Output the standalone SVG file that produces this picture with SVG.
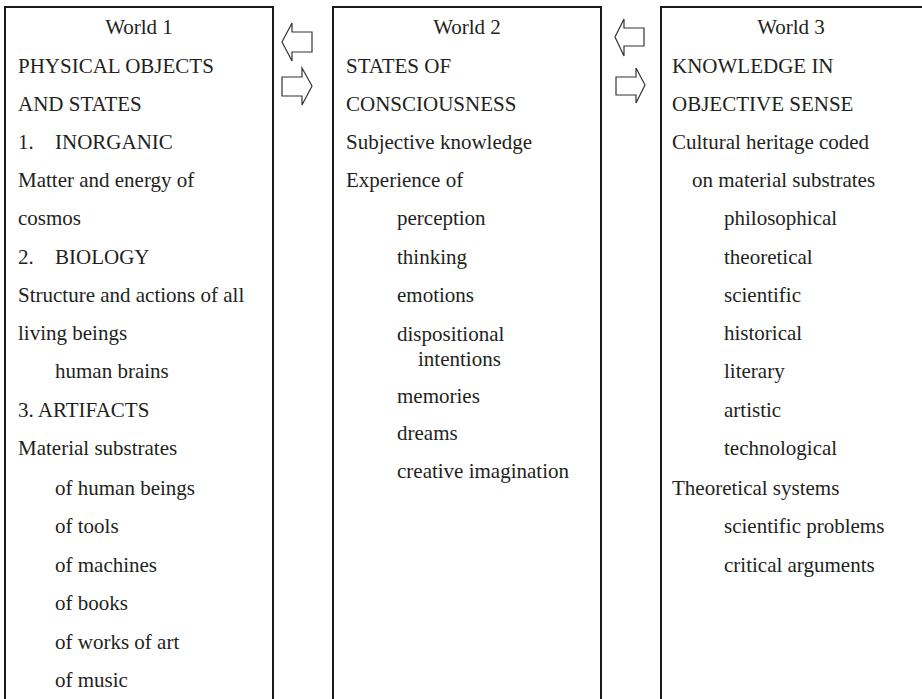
<svg xmlns="http://www.w3.org/2000/svg" width="922" height="699" viewBox="0 0 922 699">
<style>
.box{fill:#fff;stroke:#1a1a1a;stroke-width:2}
text{font-family:"Liberation Serif","Times New Roman",serif;font-size:21px;fill:#231f20}
.c{text-anchor:middle}
.arr{fill:#fff;stroke:#333;stroke-width:1.2;stroke-linejoin:miter}
</style>
<rect width="922" height="699" fill="#fff"/>
<g id="world1">
<rect class="box" x="5" y="7" width="268" height="710"/>
<text class="c" x="139" y="34">World 1</text>
<text x="18" y="73">PHYSICAL OBJECTS</text>
<text x="18" y="111">AND STATES</text>
<text x="18" y="149">1.</text><text x="55" y="149">INORGANIC</text>
<text x="18" y="187">Matter and energy of</text>
<text x="18" y="225">cosmos</text>
<text x="18" y="264">2.</text><text x="55" y="264">BIOLOGY</text>
<text x="18" y="302">Structure and actions of all</text>
<text x="18" y="340">living beings</text>
<text x="55" y="378">human brains</text>
<text x="18" y="417">3. ARTIFACTS</text>
<text x="18" y="455">Material substrates</text>
<text x="55" y="495">of human beings</text>
<text x="55" y="533">of tools</text>
<text x="55" y="572">of machines</text>
<text x="55" y="610">of books</text>
<text x="55" y="649">of works of art</text>
<text x="55" y="687">of music</text>
</g>
<g id="world2">
<rect class="box" x="333" y="7" width="268" height="710"/>
<text class="c" x="467" y="34">World 2</text>
<text x="346" y="73">STATES OF</text>
<text x="346" y="111">CONSCIOUSNESS</text>
<text x="346" y="149">Subjective knowledge</text>
<text x="346" y="187">Experience of</text>
<text x="397" y="225">perception</text>
<text x="397" y="264">thinking</text>
<text x="397" y="302">emotions</text>
<text x="397" y="341">dispositional</text>
<text x="418" y="366">intentions</text>
<text x="397" y="403">memories</text>
<text x="397" y="440">dreams</text>
<text x="397" y="478">creative imagination</text>
</g>
<g id="world3">
<rect class="box" x="661" y="7" width="268" height="710"/>
<text class="c" x="791" y="34">World 3</text>
<text x="672" y="73">KNOWLEDGE IN</text>
<text x="672" y="111">OBJECTIVE SENSE</text>
<text x="672" y="149">Cultural heritage coded</text>
<text x="692" y="187">on material substrates</text>
<text x="724" y="225">philosophical</text>
<text x="724" y="264">theoretical</text>
<text x="724" y="302">scientific</text>
<text x="724" y="340">historical</text>
<text x="724" y="378">literary</text>
<text x="724" y="417">artistic</text>
<text x="724" y="455">technological</text>
<text x="672" y="495">Theoretical systems</text>
<text x="724" y="533">scientific problems</text>
<text x="724" y="572">critical arguments</text>
</g>
<g id="connectors">
<polygon class="arr" points="282,42 292,23 292,32 312,32 312,52 292,52 292,61"/>
<polygon class="arr" points="312,86 302,68 302,77 282,77 282,96 302,96 302,105"/>
<polygon class="arr" points="615,37 624,19 624,28 644,28 644,46 624,46 624,56"/>
<polygon class="arr" points="645,85 636,68 636,77 616,77 616,95 636,95 636,103"/>
</g>
</svg>
